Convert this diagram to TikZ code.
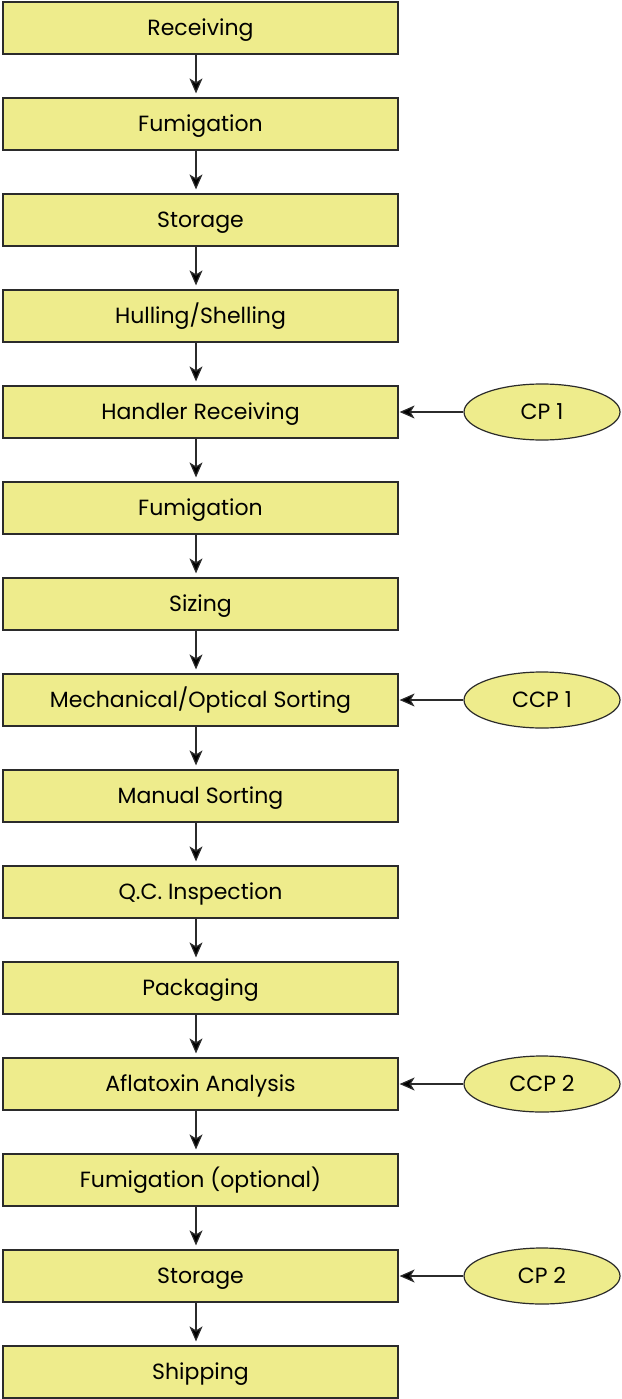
\documentclass[tikz,border=0pt]{standalone}
\usepackage{fontspec}
\setmainfont{Poppins}
\usetikzlibrary{arrows.meta,shapes.geometric}
\definecolor{stepfill}{HTML}{EEEC8C}
\definecolor{edgeline}{HTML}{2B2B2B}
\tikzset{
  labelfont/.style={font=\fontsize{22}{24}\selectfont, text height=15.5pt, text depth=0pt},
  stepbox/.style={draw=edgeline, line width=1.2pt, fill=stepfill,
    minimum width=395pt, minimum height=52pt, inner sep=0pt, labelfont},
  cpoval/.style={ellipse, draw=edgeline, line width=1.2pt, fill=stepfill,
    minimum width=156pt, minimum height=56pt, inner sep=0pt, labelfont},
  flow/.style={draw=edgeline, line width=1.2pt,
    -{Stealth[length=15pt,width=13pt,inset=4pt,fill=black]}},
}
\begin{document}
\begin{tikzpicture}[x=1pt,y=-1pt]
\useasboundingbox (0,0) rectangle (621,1399);
% process steps, top to bottom
\foreach \i/\t in {0/Receiving,1/Fumigation,2/Storage,3/Hulling\slash Shelling,
  4/Handler Receiving,5/Fumigation,6/Sizing,7/Mechanical\slash Optical Sorting,
  8/Manual Sorting,9/Q.C. Inspection,10/Packaging,11/Aflatoxin Analysis,
  12/Fumigation (optional),13/Storage,14/Shipping}
  \node[stepbox] (s\i) at (200.5,{28+96*\i}) {\t};
% arrows between consecutive steps
\foreach \i [evaluate=\i as \j using int(\i+1)] in {0,...,13}
  \draw[flow, shorten >=4pt] ([xshift=-4.5pt]s\i.south) -- ([xshift=-4.5pt]s\j.north);
% control points
\node[cpoval] (cp1)  at (542,412)  {CP 1};
\node[cpoval] (ccp1) at (542,700)  {CCP 1};
\node[cpoval] (ccp2) at (542,1084) {CCP 2};
\node[cpoval] (cp2)  at (542,1276) {CP 2};
\draw[flow, shorten >=1pt] (cp1.west)  -- (s4.east);
\draw[flow, shorten >=1pt] (ccp1.west) -- (s7.east);
\draw[flow, shorten >=1pt] (ccp2.west) -- (s11.east);
\draw[flow, shorten >=1pt] (cp2.west)  -- (s13.east);
\end{tikzpicture}
\end{document}
